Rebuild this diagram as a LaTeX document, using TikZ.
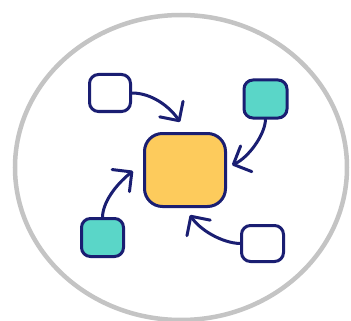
\documentclass[tikz,border=0pt]{standalone}
\usetikzlibrary{arrows.meta}
\definecolor{navy}{RGB}{26,30,114}
\definecolor{tealbox}{RGB}{90,214,200}
\definecolor{yellowbox}{RGB}{253,203,92}
\definecolor{ringgray}{RGB}{196,196,196}
\tikzset{
  box/.style={draw=navy, line width=3pt, rounded corners=9pt, minimum width=41pt, minimum height=37pt, inner sep=0pt},
  whitebox/.style={box, fill=white},
  tealb/.style={box, fill=tealbox},
  hub/.style={draw=navy, line width=3pt, rounded corners=18pt, fill=yellowbox, minimum width=81pt, minimum height=73pt, inner sep=0pt},
  conn/.style={draw=navy, line width=3pt, line cap=round, -{Straight Barb[length=14pt,width=28pt,round]}}
}
\begin{document}
\begin{tikzpicture}[x=1pt,y=-1pt]
\useasboundingbox (0,0) rectangle (351,321);
\fill[white] (0,0) rectangle (351,321);
\draw[ringgray, line width=4.5pt] (181,167.5) ellipse [x radius=166, y radius=152.5];
\node[hub] (c) at (185,170) {};
\node[whitebox] (tl) at (110,93) {};
\node[tealb, minimum width=43pt, minimum height=38pt] (tr) at (265.5,99) {};
\node[tealb, minimum width=42pt, minimum height=38pt] (bl) at (102.5,237.5) {};
\node[whitebox, minimum width=42pt, minimum height=36pt] (br) at (262.5,243.5) {};
\coordinate (t1) at (180,122);
\coordinate (t2) at (232,165);
\coordinate (t3) at (133,171);
\coordinate (t4) at (190,215);
\draw[conn] (tl.east) .. controls (152,93) and (170,107) .. (t1);
\draw[conn] (tr.south) .. controls (265,135) and (248,158) .. (t2);
\draw[conn] (bl.north) .. controls (103,200) and (119,182) .. (t3);
\draw[conn] (br.west) .. controls (222,243) and (200,230) .. (t4);
\end{tikzpicture}
\end{document}
